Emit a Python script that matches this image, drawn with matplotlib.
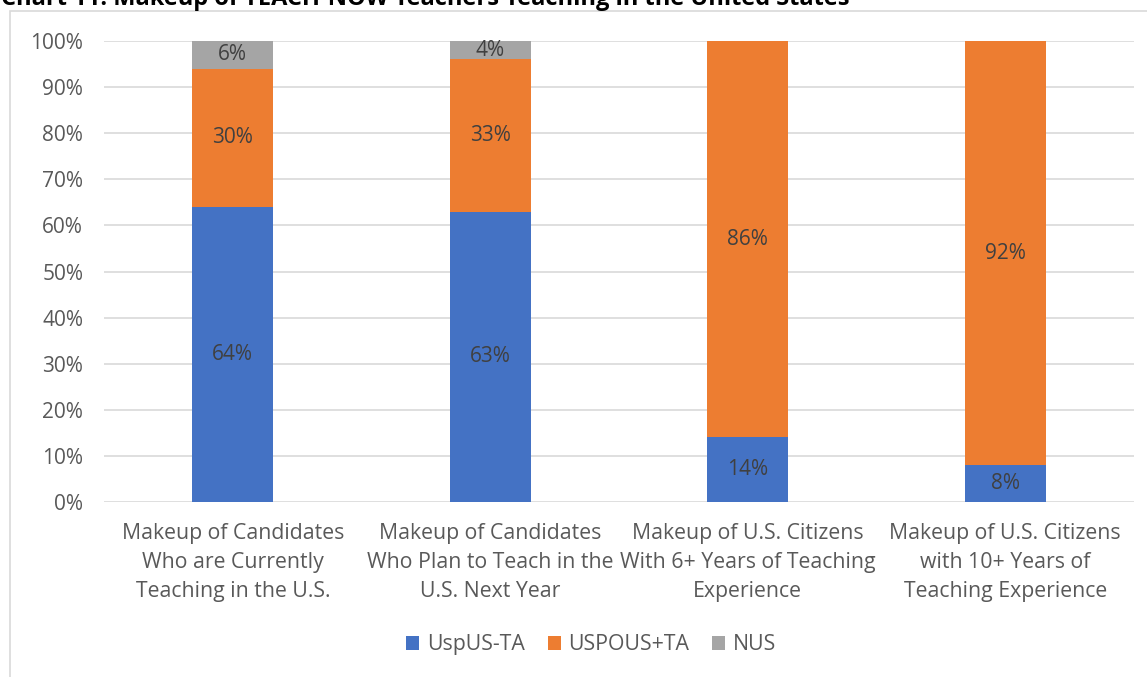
import matplotlib
matplotlib.use("Agg")
import matplotlib.pyplot as plt
from matplotlib.patches import Rectangle

categories = [
    "Makeup of Candidates\nWho are Currently\nTeaching in the U.S.",
    "Makeup of Candidates\nWho Plan to Teach in the\nU.S. Next Year",
    "Makeup of U.S. Citizens\nWith 6+ Years of Teaching\nExperience",
    "Makeup of U.S. Citizens\nwith 10+ Years of\nTeaching Experience",
]
usp_ta = [64, 63, 14, 8]
uspous_ta = [30, 33, 86, 92]
nus = [6, 4, 0, 0]
series_names = ["UspUS-TA", "USPOUS+TA", "NUS"]
colors = ["#4472C4", "#ED7D31", "#A5A5A5"]

plt.rcParams['font.family'] = ['Open Sans', 'DejaVu Sans']
text_col = "#595959"

fig = plt.figure(figsize=(11.47, 6.77), dpi=100)
ax = fig.add_axes([104/1147, 1 - 502/677, (1134-104)/1147, (502-41)/677])

x = range(len(categories))
w = 0.315
bottom = [0] * len(categories)
for vals, name, c in zip([usp_ta, uspous_ta, nus], series_names, colors):
    bars = ax.bar(x, vals, w, bottom=bottom, color=c, label=name, zorder=3)
    for b, v, b0 in zip(bars, vals, bottom):
        if v > 0:
            ax.text(b.get_x() + b.get_width()/2, b0 + v/2, f"{v}%",
                    ha='center', va='center', fontsize=15, color="#404040", zorder=4)
    bottom = [a + b for a, b in zip(bottom, vals)]

ax.set_xlim(-0.5, 3.5)
ax.set_ylim(0, 100)
ax.set_yticks(range(0, 101, 10))
ax.set_yticklabels([f"{t}%" for t in range(0, 101, 10)], fontsize=15)
ax.set_xticks(list(x))
ax.set_xticklabels(categories, linespacing=1.5, fontsize=15.3)
ax.tick_params(axis='both', length=0, colors=text_col)
ax.tick_params(axis='y', pad=15)
ax.tick_params(axis='x', pad=15)
ax.grid(axis='y', color="#D9D9D9", linewidth=1.2, zorder=0)
for s in ax.spines.values():
    s.set_visible(False)

leg = ax.legend(loc='center', bbox_to_anchor=(0.473, -0.31), ncol=3, frameon=False,
                fontsize=15.3, handlelength=0.6, handleheight=0.6, handletextpad=0.35,
                columnspacing=1.1)
for t in leg.get_texts():
    t.set_color(text_col)

# outer chart border (partially cropped)
fig.patches.append(Rectangle((10/1147, -0.1), 1.2, 1.1 - 11/677, transform=fig.transFigure,
                             fill=False, edgecolor="#D9D9D9", linewidth=1.2))

fig.text(1/1147, 1 - 5/677, "Chart 11: Makeup of TEACH-NOW Teachers Teaching in the United States",
         fontsize=17, fontweight='bold', color='black', ha='left', va='baseline')

fig.savefig("out.png", dpi=100)
